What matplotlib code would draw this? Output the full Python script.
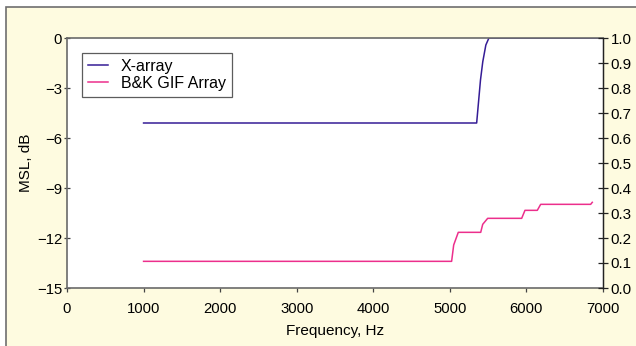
import matplotlib
matplotlib.use("Agg")
import matplotlib.pyplot as plt
from matplotlib.patches import Rectangle
from matplotlib.ticker import FixedLocator, FuncFormatter

plt.rcParams['font.family'] = ['Liberation Sans', 'DejaVu Sans']

# ---- data ----
x_freq = [1000, 5350, 5400, 5430, 5470, 5510, 7000]
x_msl = [-5.10, -5.10, -2.52, -1.42, -0.42, 0.0, 0.0]

bk_freq = [1000, 5023, 5050, 5110, 5403, 5429, 5494, 5938, 5981, 6142, 6186, 6839, 6860]
bk_msl = [-13.40, -13.40, -12.42, -11.66, -11.66, -11.18, -10.82, -10.82, -10.34,
          -10.34, -9.98, -9.98, -9.86]

series_names = ["X-array", "B&K GIF Array"]
series_colors = ["#351c96", "#ec2f8c"]

x_ticks = [0, 1000, 2000, 3000, 4000, 5000, 6000, 7000]
y_ticks = [-15, -12, -9, -6, -3, 0]
y2_ticks = [0.0, 0.1, 0.2, 0.3, 0.4, 0.5, 0.6, 0.7, 0.8, 0.9, 1.0]

W, H = 636, 346
fig = plt.figure(figsize=(W / 100, H / 100), dpi=100)
fig.patch.set_facecolor('white')

# chart-area background box (extends past right and bottom edges)
bg = Rectangle((6 / W, -0.1), 1.2, (H - 7) / H + 0.1, transform=fig.transFigure,
               facecolor='#fefbe0', edgecolor='#6e6e6e', linewidth=1.2, zorder=-10)
fig.patches.append(bg)

ax = fig.add_axes([67 / W, 1 - 288 / H, (603 - 67) / W, (288 - 38) / H])
ax.set_facecolor('white')

ax.plot(x_freq, x_msl, color=series_colors[0], lw=1.1, label=series_names[0])
ax.plot(bk_freq, bk_msl, color=series_colors[1], lw=1.1, label=series_names[1])

ax.set_xlim(0, 7000)
ax.set_ylim(-15, 0)
ax.xaxis.set_major_locator(FixedLocator(x_ticks))
ax.yaxis.set_major_locator(FixedLocator(y_ticks))
ax.yaxis.set_major_formatter(FuncFormatter(lambda v, p: ('\u2212%d' % -v) if v < 0 else '%d' % v))

for s in ['left', 'bottom', 'top']:
    ax.spines[s].set_color('#6a6a6a')
    ax.spines[s].set_linewidth(1.2)
ax.spines['right'].set_color('#222222')
ax.spines['right'].set_linewidth(1.0)

ax.tick_params(axis='x', labelsize=10.7, length=3, width=0.9, color='#444444', pad=7)
ax.tick_params(axis='y', labelsize=10.7, length=5, width=0.9, color='#444444', pad=1,
               direction='inout')

ax.set_xlabel('Frequency, Hz', fontsize=11, labelpad=6)
ax.set_ylabel('MSL, dB', fontsize=11, labelpad=3)

ax2 = ax.twinx()
ax2.set_ylim(0, 1.0)
ax2.yaxis.set_major_locator(FixedLocator(y2_ticks))
ax2.yaxis.set_major_formatter(FuncFormatter(lambda v, p: '%.1f' % v))
ax2.tick_params(axis='y', labelsize=10.9, length=7, width=0.9, direction='inout',
                color='#222222', pad=2)
for s in ['left', 'bottom', 'top']:
    ax2.spines[s].set_visible(False)
ax2.spines['right'].set_color('#222222')

leg = ax.legend(loc='upper left', bbox_to_anchor=((82 - 67) / 536, 1 - (53 - 38) / 250),
                fontsize=11.5, frameon=True, fancybox=False, handlelength=1.3,
                handletextpad=0.8, borderpad=0.35, labelspacing=0.15, borderaxespad=0)
leg.get_frame().set_edgecolor('#333333')
leg.get_frame().set_linewidth(0.9)

fig.savefig('out.png', dpi=100)
